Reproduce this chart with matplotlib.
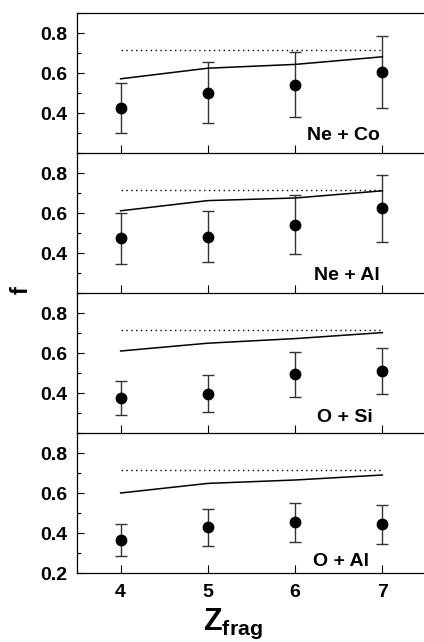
import numpy as np
import matplotlib
matplotlib.use('Agg')
import matplotlib.pyplot as plt
from matplotlib.ticker import MultipleLocator

plt.rcParams['font.family'] = 'Liberation Sans'
plt.rcParams['font.weight'] = 'bold'
plt.rcParams['mathtext.fontset'] = 'custom'
plt.rcParams['mathtext.bf'] = 'Liberation Sans:bold'
plt.rcParams['mathtext.rm'] = 'Liberation Sans:bold'

# data
z = [4, 5, 6, 7]
systems = ['Ne + Co', 'Ne + Al', 'O + Si', 'O + Al']

f_meas = [[0.425, 0.500, 0.542, 0.606],
          [0.473, 0.482, 0.542, 0.624],
          [0.374, 0.396, 0.493, 0.510],
          [0.363, 0.428, 0.453, 0.445]]
err_hi = [[0.552, 0.653, 0.706, 0.787],
          [0.602, 0.612, 0.690, 0.792],
          [0.460, 0.488, 0.605, 0.626],
          [0.447, 0.522, 0.552, 0.538]]
err_lo = [[0.298, 0.349, 0.380, 0.425],
          [0.346, 0.354, 0.397, 0.454],
          [0.289, 0.307, 0.379, 0.393],
          [0.285, 0.334, 0.355, 0.347]]
f_model = [[0.571, 0.624, 0.643, 0.681],
           [0.611, 0.662, 0.675, 0.711],
           [0.610, 0.649, 0.672, 0.702],
           [0.600, 0.648, 0.665, 0.690]]
f_limit = [0.714, 0.716, 0.715, 0.713]

# label anchors (x in data, y in data)
label_pos = [(6.97, 0.267), (6.97, 0.267), (6.89, 0.255), (6.85, 0.237)]

fig = plt.figure(figsize=(4.24, 6.42), dpi=100)

left = 77 / 424
width = (426 - 77) / 424
top_px = [13, 153, 293, 433]
h = 140 / 642

for i in range(4):
    ax = fig.add_axes([left, 1 - (top_px[i] + 140) / 642, width, h])
    y = np.array(f_meas[i])
    yerr = [y - np.array(err_lo[i]), np.array(err_hi[i]) - y]
    ax.errorbar(z, y, yerr=yerr, fmt='o', color='black', ecolor='#333333',
                elinewidth=1.0, capsize=4, capthick=1.0, markersize=7.5)
    ax.plot(z, f_model[i], color='black', lw=1.1)
    ax.plot([z[0], z[-1]], [f_limit[i], f_limit[i]], color='black', lw=1.0,
            linestyle=(0, (1, 2.5)))
    ax.set_xlim(3.5, 7.5)
    ax.set_ylim(0.2, 0.9)
    ax.set_xticks(z)
    if i == 3:
        ax.set_yticks([0.2, 0.4, 0.6, 0.8])
        ax.set_xticklabels([str(v) for v in z])
    else:
        ax.set_yticks([0.4, 0.6, 0.8])
        ax.set_xticklabels([])
    ax.yaxis.set_minor_locator(MultipleLocator(0.1))
    ax.tick_params(axis='y', which='major', direction='in', length=5, width=0.8,
                   labelsize=14, pad=7)
    ax.tick_params(axis='y', which='minor', direction='in', length=3, width=0.8)
    ax.tick_params(axis='x', which='major', direction='in', length=6, width=0.8,
                   labelsize=14, pad=8)
    ax.tick_params(right=False, top=False)
    for lab in ax.get_xticklabels() + ax.get_yticklabels():
        lab.set_fontweight('bold')
    for s in ax.spines.values():
        s.set_linewidth(0.9)
    ax.spines['right'].set_visible(False)
    ax.spines['top'].set_visible(i == 0)
    ax.text(label_pos[i][0], label_pos[i][1], systems[i], ha='right', va='baseline',
            fontsize=14, fontweight='bold')
    ax.patch.set_alpha(0)

fig.text(21 / 424, 1 - 290 / 642, 'f', rotation=90, ha='center', va='center',
         fontsize=17, fontweight='bold')
fig.text(233 / 424, 1 - 624 / 642, r'$\mathbf{Z_{frag}}$', ha='center', va='center',
         fontsize=22)

fig.savefig('out.png', dpi=100)
